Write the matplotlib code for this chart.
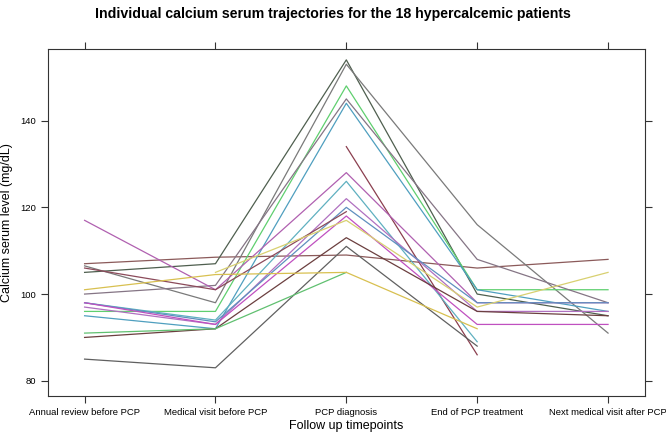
import numpy as np
import matplotlib.pyplot as plt

plt.rcParams['font.family'] = ['Liberation Sans', 'DejaVu Sans']

timepoints = ["Annual review before PCP", "Medical visit before PCP", "PCP diagnosis",
              "End of PCP treatment", "Next medical visit after PCP"]

nan = np.nan
# one row per patient: calcium serum (mg/dL) at the five timepoints
p01 = [107, 108.5, 109, 106, 108]
p02 = [105, 107, 154, 100, 95]
p03 = [106.5, 98, 153, 116, 91]
p04 = [96, 96, 148, 101, 101]
p05 = [100, 102, 145, 108, 98]
p06 = [95, 92, 144, 101, 96]
p07 = [nan, nan, 134, 86, nan]
p08 = [117, 101, 128, 98, 98]
p09 = [98, 94, 126, 89, nan]
p10 = [97, 93, 122, 96, 96]
p11 = [98, 93.6, 120, 98, 98]
p12 = [106, 101, 119, nan, nan]
p13 = [98, 93, 118, 93, 93]
p14 = [nan, 105, 117, 97, 105]
p15 = [90, 92, 113, 96, 95]
p16 = [85, 83, 111, 88, nan]
p17 = [91, 92, 105, nan, nan]
p18 = [101, 104.5, 105, 92, nan]

patients = [p01, p02, p03, p04, p05, p06, p07, p08, p09,
            p10, p11, p12, p13, p14, p15, p16, p17, p18]
colors = ["#8b5a5a", "#4f5f4f", "#7a7a7a", "#5fcf6f", "#857585", "#4f9fbf",
          "#8b3f4f", "#b060b0", "#5fb0c0", "#b070c0", "#5f8fbf", "#8b4a5a",
          "#c050c0", "#d8d070", "#6b3f3f", "#606060", "#60c070", "#d8c050"]

fig = plt.figure(figsize=(6.66, 4.34), dpi=100)
ax = fig.add_axes([0.072, 0.0876, 0.896, 0.7994])

x = np.arange(1, 6)
for vals, c in zip(patients, colors):
    ax.plot(x, vals, color=c, lw=0.9)

ax.set_xlim(0.72, 5.28)
ax.set_ylim(76.5, 156.5)
ax.set_xticks(x)
ax.set_xticklabels(timepoints, fontsize=6.6)
ax.set_yticks([80, 100, 120, 140])
ax.tick_params(axis='both', direction='out', length=5, width=0.8, labelsize=6.8,
               top=True, right=True, labeltop=False, labelright=False, color='#333333')
for s in ax.spines.values():
    s.set_linewidth(0.8)
    s.set_color('#333333')

ax.set_xlabel("Follow up timepoints", fontsize=9, labelpad=2)
ax.set_ylabel("Calcium serum level (mg/dL)", fontsize=9, labelpad=5)
fig.suptitle("Individual calcium serum trajectories for the 18 hypercalcemic patients",
             fontsize=10.2, fontweight='bold', y=0.985)

fig.savefig("out.png", dpi=100)
